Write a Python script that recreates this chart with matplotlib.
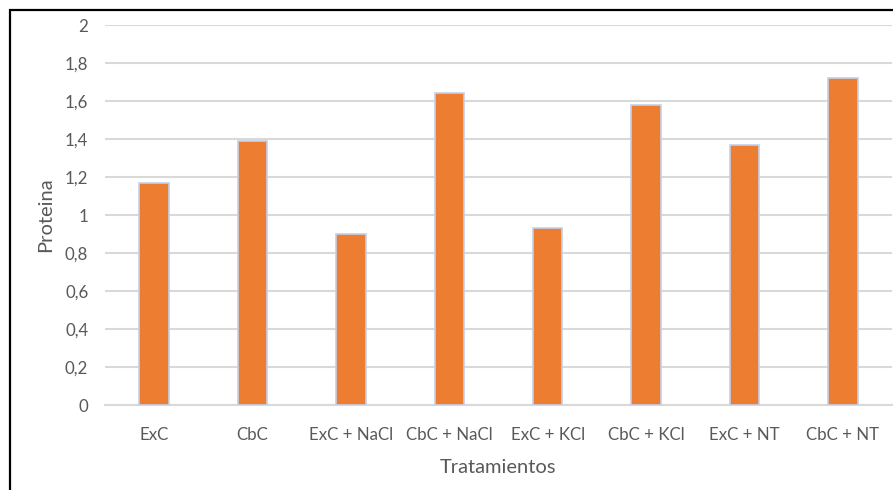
import matplotlib
matplotlib.use("Agg")
import matplotlib.pyplot as plt
from matplotlib.patches import Rectangle
from matplotlib.ticker import FuncFormatter, MultipleLocator

# Protein content per treatment
tratamientos = ["ExC", "CbC", "ExC + NaCl", "CbC + NaCl",
                "ExC + KCl", "CbC + KCl", "ExC + NT", "CbC + NT"]
proteina = [1.17, 1.39, 0.90, 1.64, 0.93, 1.58, 1.37, 1.72]

BAR_COLOR = "#ED7D31"
EDGE_COLOR = "#C3CFEA"
TEXT_COLOR = "#595959"
GRID_COLOR = "#D9D9D9"

plt.rcParams["font.family"] = ["Lato", "DejaVu Sans"]

fig = plt.figure(figsize=(8.93, 4.9), dpi=100)
ax = fig.add_axes([105 / 893, 1 - 405 / 490, 787 / 893, 380 / 490])

x = range(len(tratamientos))
ax.bar(x, proteina, width=0.3, color=BAR_COLOR, edgecolor=EDGE_COLOR,
       linewidth=1.2, zorder=3)

ax.set_xlim(-0.5, len(tratamientos) - 0.5)
ax.set_ylim(0, 2)
ax.yaxis.set_major_locator(MultipleLocator(0.2))
ax.yaxis.set_major_formatter(
    FuncFormatter(lambda v, _: f"{v:.1f}".rstrip("0").rstrip(".").replace(".", ",")))
ax.grid(axis="y", color=GRID_COLOR, linewidth=1.5, zorder=0)
ax.set_axisbelow(True)

ax.set_xticks(list(x))
ax.set_xticklabels(tratamientos)
ax.tick_params(axis="both", length=0, labelsize=12.2, colors=TEXT_COLOR)
ax.tick_params(axis="x", pad=16)
ax.tick_params(axis="y", pad=12)

for side in ["top", "right", "left"]:
    ax.spines[side].set_visible(False)
ax.spines["bottom"].set_color(GRID_COLOR)
ax.spines["bottom"].set_linewidth(1.5)

ax.set_xlabel("Tratamientos", fontsize=14.5, color=TEXT_COLOR, labelpad=11)
ax.set_ylabel("Proteina", fontsize=14.5, color=TEXT_COLOR, labelpad=8)

# chart frame, open towards the right and bottom edges
fig.patches.append(Rectangle((10 / 893, -0.2), 1.2, 1.2 - 10 / 490,
                             transform=fig.transFigure, fill=False,
                             edgecolor="black", linewidth=1.6))

fig.savefig("out.png", dpi=100)
